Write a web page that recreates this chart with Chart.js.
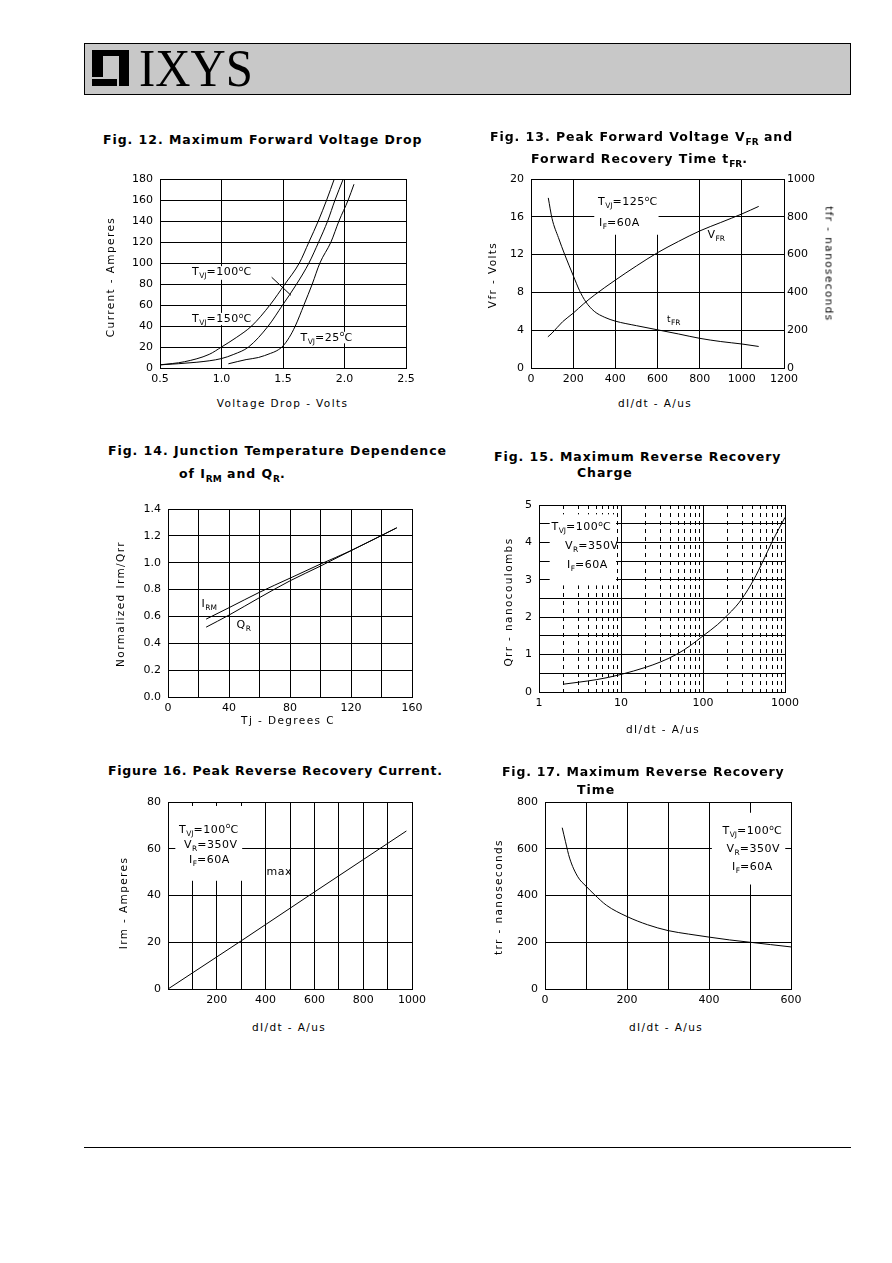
<!DOCTYPE html>
<html>
<head>
<meta charset="utf-8">
<script src="https://cdn.jsdelivr.net/npm/chart.js@4.4.1/dist/chart.umd.min.js"></script>
<style>
  html, body { margin: 0; padding: 0; background: #fff; }
  body { position: relative; width: 892px; height: 1263px; overflow: hidden; font-family: "DejaVu Sans", sans-serif; color: #000; }
  canvas { position: absolute; }
  .hdr { position: absolute; left: 84px; top: 43px; width: 765px; height: 50px; background: #c8c8c8; border: 1px solid #000; }
  .blk { position: absolute; background: #000; }
  .wht { position: absolute; background: #c8c8c8; }
  .logo { position: absolute; left: 139px; top: 41.6px; font-family: "Liberation Serif", serif; font-size: 53px; line-height: 53px; transform: scaleX(0.92); transform-origin: 0 0; }
  .foot { position: absolute; left: 84px; top: 1147px; width: 767px; height: 1px; background: #000; }
  .t { position: absolute; font-size: 12.5px; font-weight: bold; letter-spacing: 0.95px; line-height: 14px; white-space: nowrap; }
  .t sub { font-size: 9px; position: relative; top: 4px; vertical-align: baseline; letter-spacing: 0; }
  .ax { position: absolute; font-size: 10.5px; letter-spacing: 1.4px; line-height: 11px; white-space: nowrap; transform: translate(-50%, -50%); }
  .ax.rl { transform: translate(-50%, -50%) rotate(-90deg); }
  .ax.rr { transform: translate(-50%, -50%) rotate(90deg); }
  .an { position: absolute; font-size: 11px; letter-spacing: 0.5px; line-height: 11px; white-space: nowrap; }
  .an sub { font-size: 7.5px; position: relative; top: 3px; vertical-align: baseline; letter-spacing: 0; }
  .an sup { font-size: 7.5px; position: relative; top: -4.5px; vertical-align: baseline; letter-spacing: 0; }
  .an.sm { font-size: 9px; }
</style>
</head>
<body>
<div class="hdr"></div>
<div class="blk" style="left:92px;top:50px;width:37px;height:36px"></div>
<div class="wht" style="left:103px;top:56px;width:14px;height:21px"></div>
<div class="wht" style="left:92px;top:77px;width:25px;height:2px"></div>
<div class="wht" style="left:117px;top:56px;width:2px;height:30px"></div>
<div class="logo">IXYS</div>

<canvas id="fig12"></canvas>
<canvas id="fig13"></canvas>
<canvas id="fig14"></canvas>
<canvas id="fig15"></canvas>
<canvas id="fig16"></canvas>
<canvas id="fig17"></canvas>

<div class="t" style="left:103px;top:132.5px">Fig. 12. Maximum Forward Voltage Drop</div>
<div class="t" style="left:490px;top:129.7px">Fig. 13. Peak Forward Voltage V<sub>FR</sub> and</div>
<div class="t" style="left:531px;top:151.5px">Forward Recovery Time t<sub>FR</sub>.</div>
<div class="t" style="left:108px;top:444.3px">Fig. 14. Junction Temperature Dependence</div>
<div class="t" style="left:179px;top:467px">of I<sub>RM</sub> and Q<sub>R</sub>.</div>
<div class="t" style="left:494px;top:449.7px">Fig. 15. Maximum Reverse Recovery</div>
<div class="t" style="left:577px;top:466px">Charge</div>
<div class="t" style="left:108px;top:763.5px;letter-spacing:0.75px">Figure 16. Peak Reverse Recovery Current.</div>
<div class="t" style="left:502px;top:764.5px;letter-spacing:0.8px">Fig. 17. Maximum Reverse Recovery</div>
<div class="t" style="left:577px;top:783px">Time</div>

<div class="ax" style="left:282.5px;top:403px">Voltage Drop - Volts</div>
<div class="ax rl" style="left:110px;top:276.5px">Current - Amperes</div>
<div class="ax" style="left:655px;top:403px">dI/dt - A/us</div>
<div class="ax rl" style="left:491.7px;top:275px">Vfr - Volts</div>
<div class="ax rr" style="left:829px;top:264px">tfr - nanoseconds</div>
<div class="ax" style="left:288px;top:719.5px">Tj - Degrees C</div>
<div class="ax rl" style="left:120px;top:604px">Normalized Irm/Qrr</div>
<div class="ax" style="left:663px;top:729px">dI/dt - A/us</div>
<div class="ax rl" style="left:507.5px;top:601.5px">Qrr - nanocoulombs</div>
<div class="ax" style="left:289px;top:1027px">dI/dt - A/us</div>
<div class="ax rl" style="left:123px;top:903px">Irm - Amperes</div>
<div class="ax" style="left:666px;top:1027px">dI/dt - A/us</div>
<div class="ax rl" style="left:498px;top:897px">trr - nanoseconds</div>

<div class="an" style="left:192px;top:266.4px">T<sub>VJ</sub>=100<sup>o</sup>C</div>
<div class="an" style="left:192px;top:313px">T<sub>VJ</sub>=150<sup>o</sup>C</div>
<div class="an" style="left:300.5px;top:331.7px">T<sub>VJ</sub>=25<sup>o</sup>C</div>

<div class="an" style="left:598px;top:196.4px">T<sub>VJ</sub>=125<sup>o</sup>C</div>
<div class="an" style="left:599px;top:217.2px">I<sub>F</sub>=60A</div>
<div class="an" style="left:707.5px;top:228.7px">V<sub>FR</sub></div>
<div class="an sm" style="left:667px;top:313.7px">t<sub>FR</sub></div>

<div class="an" style="left:201.5px;top:597.7px">I<sub>RM</sub></div>
<div class="an" style="left:236.5px;top:618.7px">Q<sub>R</sub></div>

<div class="an" style="left:551.5px;top:521px">T<sub>VJ</sub>=100<sup>o</sup>C</div>
<div class="an" style="left:565px;top:540.2px">V<sub>R</sub>=350V</div>
<div class="an" style="left:567px;top:558.5px">I<sub>F</sub>=60A</div>

<div class="an" style="left:179px;top:823.7px">T<sub>VJ</sub>=100<sup>o</sup>C</div>
<div class="an" style="left:184px;top:838.7px">V<sub>R</sub>=350V</div>
<div class="an" style="left:189px;top:854.2px">I<sub>F</sub>=60A</div>
<div class="an" style="left:266.5px;top:866.2px">max</div>

<div class="an" style="left:722.5px;top:825.2px">T<sub>VJ</sub>=100<sup>o</sup>C</div>
<div class="an" style="left:726.5px;top:843px">V<sub>R</sub>=350V</div>
<div class="an" style="left:732px;top:861.4px">I<sub>F</sub>=60A</div>

<div class="foot"></div>

<script>
// Fig. 12  forward current (A) vs voltage drop (V)
const fig12V150 = [0.5, 0.7, 0.9, 1.0, 1.12, 1.245, 1.394, 1.516, 1.633, 1.711, 1.787, 1.855, 1.917];
const fig12I150 = [3, 6, 13, 20, 29, 40, 60, 80, 100, 120, 140, 160, 180];
const fig12V100 = [0.5, 0.8, 1.0, 1.1, 1.22, 1.38, 1.497, 1.611, 1.711, 1.79, 1.863, 1.923, 1.99];
const fig12I100 = [3, 5.5, 9, 13, 20, 40, 60, 80, 100, 120, 140, 160, 180];
const fig12V25 = [1.056, 1.2, 1.3, 1.4, 1.45, 1.5, 1.55, 1.6, 1.67, 1.738, 1.8, 1.89, 1.955, 2.03, 2.077];
const fig12I25 = [4, 8, 10, 14, 16.5, 21, 29, 40, 60, 80, 100, 120, 140, 160, 175];
const fig12ArrowV = [1.408, 1.565];   // leader line of the 100C label
const fig12ArrowI = [86.4, 69.2];

// Fig. 13  VFR (V, left) and tFR (ns, right) vs dI/dt
const fig13X = [80, 100, 150, 200, 250, 300, 400, 500, 600, 700, 800, 900, 1000, 1080];
const fig13Vfr = [3.3, 3.7, 4.9, 5.8, 6.8, 7.7, 9.3, 10.8, 12.2, 13.4, 14.5, 15.4, 16.3, 17.1];
const fig13TfrX = [82, 100, 130, 160, 200, 230, 260, 300, 350, 400, 500, 600, 700, 800, 900, 1000, 1080];
const fig13Tfr = [900, 790, 690, 600, 490, 410, 350, 300, 268, 248, 224, 202, 180, 157, 140, 127, 114];

// Fig. 14  normalized Irm / Qrr vs Tj
const fig14T = [25, 40, 60, 80, 100, 120, 150];
const fig14Irm = [0.58, 0.665, 0.78, 0.885, 0.99, 1.09, 1.26];
const fig14Qr = [0.52, 0.61, 0.74, 0.865, 0.975, 1.09, 1.26];

// Fig. 15  Qrr (nC) vs dI/dt, log x
const fig15X = [2, 3, 5, 7, 10, 20, 30, 47, 70, 100, 150, 200, 250, 300, 415, 540, 690, 850, 1000];
const fig15Q = [0.21, 0.26, 0.33, 0.39, 0.47, 0.66, 0.8, 1.0, 1.24, 1.5, 1.8, 2.06, 2.28, 2.5, 3.0, 3.5, 4.0, 4.38, 4.67];
const fig15MajorTicks = [1, 10, 100, 1000];
const fig15MinorTicks = [2, 3, 4, 5, 6, 7, 8, 9, 20, 30, 40, 50, 60, 70, 80, 90, 200, 300, 400, 500, 600, 700, 800, 900];

// Fig. 16  Irm (A) vs dI/dt
const fig16X = [0, 300, 600, 977];
const fig16Irm = [0, 20.6, 41.5, 67.6];

// Fig. 17  trr (ns) vs dI/dt
const fig17X = [42, 50, 60, 80, 100, 120, 150, 200, 250, 300, 350, 400, 450, 500, 550, 600];
const fig17Trr = [690, 630, 560, 480, 440, 405, 358, 310, 275, 250, 235, 222, 210, 200, 190, 180];

Chart.defaults.font.family = 'DejaVu Sans';
Chart.defaults.font.size = 11;
Chart.defaults.color = '#000';

const PAD = {L: 45, T: 12, R: 20, B: 25};

function pts(xs, ys) {
  return xs.map((x, i) => ({x: x, y: ys[i]}));
}

function curve(xs, ys, axis, straight) {
  return {
    data: pts(xs, ys), yAxisID: axis || 'y',
    borderColor: '#000', borderWidth: 1, pointRadius: 0, fill: false,
    cubicInterpolationMode: straight ? 'default' : 'monotone', tension: straight ? 0 : 0.4
  };
}

function noPad(s) {
  s.paddingLeft = 0; s.paddingRight = 0; s.paddingTop = 0; s.paddingBottom = 0;
}

function xAxis(min, max, step, label) {
  return {
    type: 'linear', position: 'bottom', min: min, max: max,
    ticks: {stepSize: step, padding: 5, autoSkip: false, maxRotation: 0, minRotation: 0, callback: label},
    grid: {color: '#000', lineWidth: 1, drawTicks: false},
    border: {color: '#000', width: 1},
    afterFit: function (s) { s.height = PAD.B; noPad(s); }
  };
}

function yAxis(min, max, step, label, right) {
  return {
    type: 'linear', position: right ? 'right' : 'left', min: min, max: max,
    ticks: {stepSize: step, padding: right ? 3 : 7, autoSkip: false, callback: label},
    grid: {color: '#000', lineWidth: 1, drawTicks: false, drawOnChartArea: !right},
    border: {color: '#000', width: 1},
    afterFit: function (s) { s.width = right ? right : PAD.L; noPad(s); }
  };
}

// white boxes behind the in-plot labels, given in data units [x0, x1, y0, y1]
const maskPlugin = {
  id: 'masks',
  beforeDatasetsDraw(chart, args, opts) {
    const boxes = opts.boxes || [];
    if (!boxes.length) return;
    const a = chart.chartArea, ctx = chart.ctx;
    const xs = chart.scales.x, ys = chart.scales.y;
    ctx.save();
    ctx.beginPath();
    ctx.rect(a.left + 1, a.top + 1, a.right - a.left - 2, a.bottom - a.top - 2);
    ctx.clip();
    ctx.fillStyle = '#fff';
    boxes.forEach(b => {
      const x0 = xs.getPixelForValue(b[0]), x1 = xs.getPixelForValue(b[1]);
      const y0 = ys.getPixelForValue(b[2]), y1 = ys.getPixelForValue(b[3]);
      ctx.fillRect(Math.min(x0, x1), Math.min(y0, y1), Math.abs(x1 - x0), Math.abs(y1 - y0));
    });
    ctx.restore();
  }
};

function build(id, plot, datasets, scales, boxes, rightAxis) {
  const cv = document.getElementById(id);
  const R = rightAxis || PAD.R;
  cv.width = plot.r - plot.l + PAD.L + R;
  cv.height = plot.b - plot.t + PAD.T + PAD.B;
  cv.style.left = (plot.l - PAD.L) + 'px';
  cv.style.top = (plot.t - PAD.T) + 'px';
  return new Chart(cv, {
    type: 'line',
    data: {datasets: datasets},
    options: {
      responsive: false, animation: false, events: [],
      layout: {padding: {left: 0, top: PAD.T, right: rightAxis ? 0 : R, bottom: 0}},
      plugins: {legend: {display: false}, tooltip: {enabled: false}, masks: {boxes: boxes || []}},
      scales: scales
    },
    plugins: [maskPlugin]
  });
}

const fix1 = v => Number(v).toFixed(1);

build('fig12', {l: 160, t: 179, r: 406, b: 368},
  [curve(fig12V150, fig12I150), curve(fig12V100, fig12I100), curve(fig12V25, fig12I25),
   curve(fig12ArrowV, fig12ArrowI, 'y', true)],
  {x: xAxis(0.5, 2.5, 0.5, fix1), y: yAxis(0, 180, 20, v => String(v))},
  [[0.75, 1.26, 84, 97], [0.75, 1.26, 41, 52.5], [1.635, 2.05, 23.5, 34.5]]);

build('fig13', {l: 531, t: 179, r: 784, b: 368},
  [curve(fig13X, fig13Vfr), curve(fig13TfrX, fig13Tfr, 'y2')],
  {x: xAxis(0, 1200, 200, v => String(v)), y: yAxis(0, 20, 4, v => String(v)),
   y2: yAxis(0, 1000, 200, v => String(v), 40)},
  [[300, 605, 14.1, 20]], 40);

build('fig14', {l: 168, t: 509, r: 412, b: 697},
  [curve(fig14T, fig14Irm), curve(fig14T, fig14Qr)],
  {x: xAxis(0, 160, 20, v => (v % 40 === 0 ? String(v) : '')), y: yAxis(0, 1.4, 0.2, fix1)});

build('fig15', {l: 539, t: 505, r: 785, b: 692},
  [curve(fig15X, fig15Q)],
  {
    x: Object.assign(xAxis(1, 1000, null, v => String(v)), {
      type: 'logarithmic',
      afterBuildTicks: s => { s.ticks = fig15MajorTicks.map(v => ({value: v})); }
    }),
    xm: {
      type: 'logarithmic', position: 'bottom', min: 1, max: 1000,
      afterBuildTicks: s => { s.ticks = fig15MinorTicks.map(v => ({value: v})); },
      ticks: {display: false},
      grid: {color: '#000', lineWidth: 1, drawTicks: false},
      border: {display: false, dash: [4, 4]},
      afterFit: function (s) { s.height = 0; noPad(s); }
    },
    y: yAxis(0, 5, 0.5, v => (Number.isInteger(v) ? String(v) : ''))
  },
  [[1.35, 8.7, 2.85, 4.75]]);

build('fig16', {l: 168, t: 802, r: 412, b: 989},
  [curve(fig16X, fig16Irm, 'y', true)],
  {x: xAxis(0, 1000, 100, v => (v % 200 === 0 && v !== 0 ? String(v) : '')), y: yAxis(0, 80, 20, v => String(v))},
  [[30, 304, 46.3, 78.3]]);

build('fig17', {l: 545, t: 802, r: 791, b: 989},
  [curve(fig17X, fig17Trr)],
  {x: xAxis(0, 600, 100, v => (v % 200 === 0 ? String(v) : '')), y: yAxis(0, 800, 200, v => String(v))},
  [[407, 586, 447, 754]]);
</script>
</body>
</html>
